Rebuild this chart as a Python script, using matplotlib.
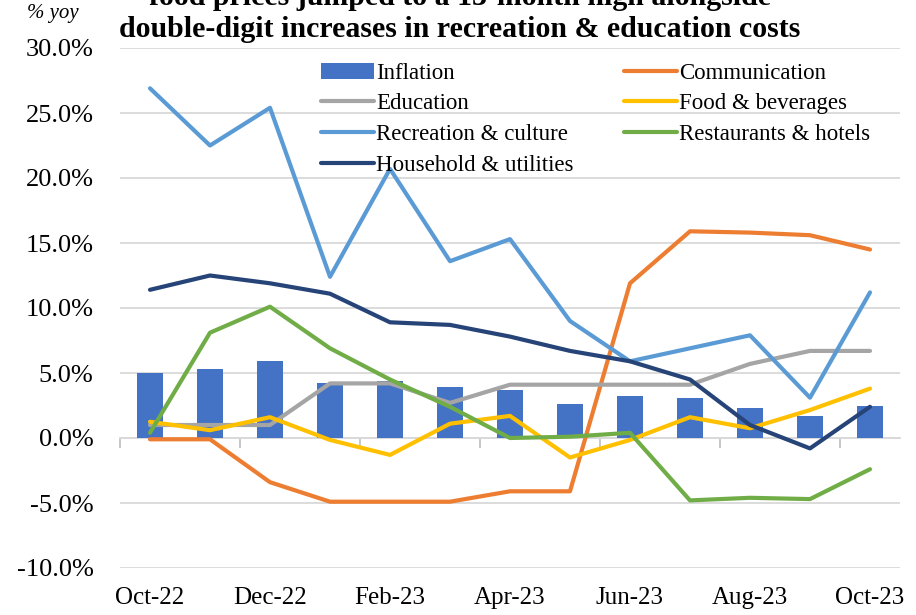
import matplotlib.pyplot as plt
import numpy as np

months = ['Oct-22', 'Nov-22', 'Dec-22', 'Jan-23', 'Feb-23', 'Mar-23', 'Apr-23',
          'May-23', 'Jun-23', 'Jul-23', 'Aug-23', 'Sep-23', 'Oct-23']

inflation = [5.0, 5.3, 5.9, 4.2, 4.4, 3.9, 3.7, 2.6, 3.2, 3.05, 2.3, 1.7, 2.5]
communication = [-0.1, -0.1, -3.4, -4.9, -4.9, -4.9, -4.1, -4.1, 11.9, 15.9, 15.8, 15.6, 14.5]
education = [1.0, 1.0, 1.0, 4.2, 4.2, 2.7, 4.1, 4.1, 4.1, 4.1, 5.7, 6.7, 6.7]
food = [1.25, 0.6, 1.6, -0.15, -1.3, 1.1, 1.7, -1.5, -0.15, 1.6, 0.75, 2.15, 3.8]
recreation = [26.9, 22.5, 25.4, 12.4, 20.7, 13.6, 15.3, 9.0, 5.9, 6.9, 7.9, 3.1, 11.2]
restaurants = [0.4, 8.1, 10.1, 6.9, 4.5, 2.4, 0.0, 0.1, 0.4, -4.8, -4.6, -4.7, -2.4]
household = [11.4, 12.5, 11.9, 11.1, 8.9, 8.7, 7.8, 6.7, 5.9, 4.5, 1.0, -0.8, 2.4]

plt.rcParams['font.family'] = ['Liberation Serif', 'DejaVu Serif']

fig = plt.figure(figsize=(9.16, 6.15), dpi=100)
ax = fig.add_axes([120/916, 47/615, 780/916, 520/615])

x = np.arange(len(months))
lw = 3.0

bars = ax.bar(x, inflation, width=0.42, color='#4472C4', label='Inflation', zorder=2)
l_com, = ax.plot(x, communication, color='#ED7D31', lw=lw, label='Communication', zorder=3)
l_edu, = ax.plot(x, education, color='#A5A5A5', lw=lw, label='Education', zorder=3)
l_food, = ax.plot(x, food, color='#FFC000', lw=lw, label='Food & beverages', zorder=3)
l_rec, = ax.plot(x, recreation, color='#5B9BD5', lw=lw, label='Recreation & culture', zorder=3)
l_rest, = ax.plot(x, restaurants, color='#70AD47', lw=lw, label='Restaurants & hotels', zorder=3)
l_hh, = ax.plot(x, household, color='#264478', lw=lw, label='Household & utilities', zorder=3)

for ln in [l_com, l_edu, l_food, l_rec, l_rest, l_hh]:
    ln.set_solid_capstyle('round')
    ln.set_solid_joinstyle('round')

ax.set_xlim(-0.5, len(months) - 0.5)
ax.set_ylim(-10, 30)
ax.set_yticks(np.arange(-10, 31, 5))
ax.set_yticklabels([f'{v:.1f}%' for v in np.arange(-10, 31, 5)])
ax.set_xticks(x[::2])
ax.set_xticklabels(months[::2])
ax.tick_params(axis='y', length=0, pad=19, labelsize=19)
ax.tick_params(axis='x', length=0, pad=14, labelsize=18)
ax.grid(axis='y', color='#d9d9d9', lw=1.3, zorder=0)
for s in ax.spines.values():
    s.set_visible(False)

# category axis sits on the 0% line, with ticks between every other category
zero_frac = (0 - ax.get_ylim()[0]) / (ax.get_ylim()[1] - ax.get_ylim()[0])
sec = ax.secondary_xaxis(zero_frac)
sec.set_xticks(np.arange(-0.5, len(months), 2))
sec.tick_params(length=7, color='#bfbfbf', width=1.2, labelbottom=False)
sec.spines['bottom'].set_color('#d9d9d9')
sec.spines['bottom'].set_linewidth(1.3)

handles = [bars, l_edu, l_rec, l_hh, l_com, l_food, l_rest]
ax.legend(handles=handles, ncol=2, loc='upper left', bbox_to_anchor=(0.258, 0.972),
          frameon=False, fontsize=16.5, handlelength=2.3, handletextpad=0.1,
          columnspacing=2.2, labelspacing=0.42, borderpad=0, borderaxespad=0)

fig.text(0.502, 0.992, 'food prices jumped to a 13-month high alongside',
         ha='center', va='baseline', fontsize=21.5, fontweight='bold')
fig.text(0.502, 0.94, 'double-digit increases in recreation & education costs',
         ha='center', va='baseline', fontsize=21.5, fontweight='bold')
fig.text(0.03, 0.97, '% yoy', ha='left', va='baseline', fontsize=15, style='italic')

plt.savefig('out.png', dpi=100)
